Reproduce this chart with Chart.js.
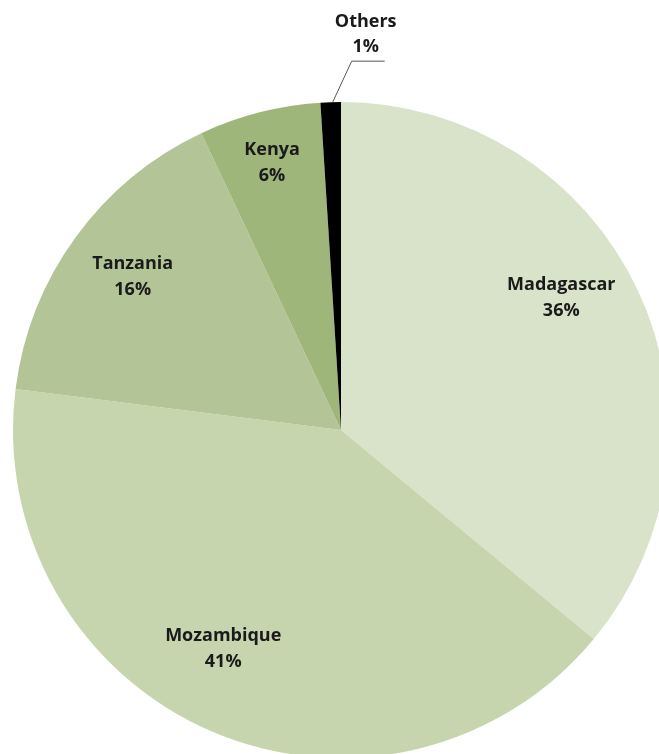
<!DOCTYPE html>
<html>
<head>
<meta charset="utf-8">
<script src="https://cdn.jsdelivr.net/npm/chart.js@4.4.1/dist/chart.umd.min.js"></script>
<style>
  html, body { margin: 0; padding: 0; background: #fff; overflow: hidden; width: 659px; height: 754px; }
  #wrap { position: absolute; left: 0; top: 0; }
</style>
</head>
<body>
<div id="wrap"><canvas id="myChart" width="682" height="860"></canvas></div>
<script>
// Data
const countries = ["Madagascar", "Mozambique", "Tanzania", "Kenya", "Others"];
const shares = [36, 41, 16, 6, 1];
const sliceColors = ["#d9e3c9", "#c6d5ae", "#b3c596", "#9fb67b", "#000000"];

// label placement: fraction of radius and small angle nudge (degrees)
const labelRadius = [0.785, 0.755, 0.79, 0.845];
const labelNudge = [-6, 5, 0.5, 0];

const labelFont = "bold 18px 'Open Sans', sans-serif";

// draws the inside labels and the leader line for the small slice
const pieLabels = {
  id: "pieLabels",
  afterDatasetsDraw: function (chart) {
    var ctx = chart.ctx;
    var arcs = chart.getDatasetMeta(0).data;
    ctx.save();
    ctx.font = labelFont;
    ctx.fillStyle = "#1a1a1a";
    ctx.textAlign = "center";
    ctx.textBaseline = "middle";
    arcs.forEach(function (arc, i) {
      var p = arc.getProps(["x", "y", "startAngle", "endAngle", "outerRadius"], true);
      var mid = (p.startAngle + p.endAngle) / 2;
      var txt = shares[i] + "%";
      if (i < labelRadius.length) {
        var a = mid + labelNudge[i] * Math.PI / 180;
        var r = p.outerRadius * labelRadius[i];
        var cx = p.x + Math.cos(a) * r;
        var cy = p.y + Math.sin(a) * r;
        ctx.fillText(countries[i], cx, cy - 12);
        ctx.fillText(txt, cx, cy + 14);
      } else {
        // outside label with leader line
        var ex = p.x + Math.cos(mid) * p.outerRadius + 2;
        var ey = p.y + Math.sin(mid) * p.outerRadius;
        var kx = ex + 19, ky = ey - 41;
        ctx.strokeStyle = "#555";
        ctx.lineWidth = 1;
        ctx.beginPath();
        ctx.moveTo(ex, ey);
        ctx.lineTo(kx, ky);
        ctx.lineTo(kx + 33, ky);
        ctx.stroke();
        ctx.fillText(countries[i], kx + 14, ky - 39);
        ctx.fillText(txt, kx + 14, ky - 14);
      }
    });
    ctx.restore();
  },
};

var ctx = document.getElementById("myChart").getContext("2d");
var myChart = new Chart(ctx, {
  type: "pie",
  data: {
    labels: countries,
    datasets: [
      {
        data: shares,
        backgroundColor: sliceColors,
        borderWidth: 0,
      },
    ],
  },
  options: {
    responsive: false,
    animation: false,
    layout: { padding: 13 },
    plugins: {
      legend: { display: false },
      tooltip: { enabled: false },
    },
  },
  plugins: [pieLabels],
});
</script>
</body>
</html>
